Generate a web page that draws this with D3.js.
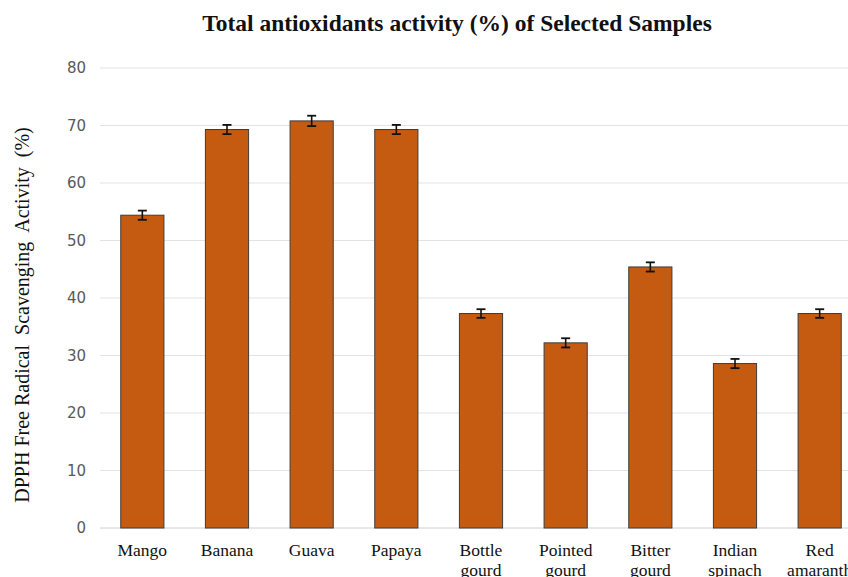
<!DOCTYPE html>
<html>
<head>
<meta charset="utf-8">
<script src="https://cdn.jsdelivr.net/npm/d3@7"></script>
<style>
  body { margin: 0; background: #fff; }
  svg { display: block; }
</style>
</head>
<body>
<div id="chart"></div>
<script>
// data
const samples = ["Mango", "Banana", "Guava", "Papaya", "Bottle gourd", "Pointed gourd", "Bitter gourd", "Indian spinach", "Red amaranth"];
const activity = [54.4, 69.3, 70.8, 69.3, 37.3, 32.2, 45.4, 28.6, 37.3];
const errors = [0.8, 0.8, 0.9, 0.8, 0.75, 0.8, 0.8, 0.8, 0.75];
const yTicks = [0, 10, 20, 30, 40, 50, 60, 70, 80];

const width = 848, height = 577;
const margin = { top: 68, right: -14, bottom: 49, left: 100 };

const svg = d3.select("#chart").append("svg")
  .attr("width", width)
  .attr("height", height);

const x = d3.scaleBand()
  .domain(samples)
  .range([margin.left, width - margin.right])
  .paddingInner(0.49)
  .paddingOuter(0.245);

const y = d3.scaleLinear()
  .domain([0, 80])
  .range([height - margin.bottom, margin.top]);

// gridlines
svg.append("g")
  .selectAll("line")
  .data(yTicks)
  .enter().append("line")
  .attr("x1", margin.left)
  .attr("x2", width)
  .attr("y1", d => y(d))
  .attr("y2", d => y(d))
  .style("stroke", d => d === 0 ? "#d0d0d0" : "#e3e3e3")
  .style("stroke-width", 1);

// y tick labels
svg.append("g")
  .selectAll("text")
  .data(yTicks)
  .enter().append("text")
  .attr("x", 86)
  .attr("y", d => y(d))
  .attr("dy", "0.36em")
  .attr("text-anchor", "end")
  .style("font-family", "'DejaVu Sans', Arial, sans-serif")
  .style("font-size", "15px")
  .style("fill", "#595959")
  .text(d => d);

// bars
svg.append("g")
  .selectAll("rect")
  .data(samples)
  .enter().append("rect")
  .attr("x", d => x(d))
  .attr("y", (d, i) => y(activity[i]))
  .attr("width", x.bandwidth())
  .attr("height", (d, i) => y(0) - y(activity[i]))
  .style("fill", "#C55A11")
  .style("stroke", "#3d3d3d")
  .style("stroke-width", 1);

// error bars
const err = svg.append("g")
  .selectAll("g")
  .data(samples)
  .enter().append("g")
  .attr("transform", d => `translate(${x(d) + x.bandwidth() / 2},0)`);

err.append("line")
  .attr("y1", (d, i) => y(activity[i] + errors[i]))
  .attr("y2", (d, i) => y(activity[i] - errors[i]))
  .style("stroke", "#111")
  .style("stroke-width", 1.6);

err.selectAll(".cap")
  .data((d, i) => [activity[i] + errors[i], activity[i] - errors[i]])
  .enter().append("line")
  .attr("class", "cap")
  .attr("x1", -4.5)
  .attr("x2", 4.5)
  .attr("y1", v => y(v))
  .attr("y2", v => y(v))
  .style("stroke", "#111")
  .style("stroke-width", 1.8);

// x labels (two lines where needed)
const xl = svg.append("g")
  .selectAll("text")
  .data(samples)
  .enter().append("text")
  .attr("x", d => x(d) + x.bandwidth() / 2)
  .attr("y", 556)
  .attr("text-anchor", "middle")
  .style("font-family", "'Liberation Serif', 'Times New Roman', serif")
  .style("font-size", "17.5px")
  .style("fill", "#111");

xl.each(function(d) {
  const words = d.split(" ");
  const t = d3.select(this);
  words.forEach((w, k) => {
    t.append("tspan")
      .attr("x", x(d) + x.bandwidth() / 2)
      .attr("dy", k === 0 ? 0 : 20)
      .text(w);
  });
});

// title
svg.append("text")
  .attr("x", 457)
  .attr("y", 31)
  .attr("text-anchor", "middle")
  .style("font-family", "'Liberation Serif', 'Times New Roman', serif")
  .style("font-weight", "bold")
  .style("font-size", "23.5px")
  .style("fill", "#111")
  .text("Total antioxidants activity (%) of Selected Samples");

// y axis label
svg.append("text")
  .attr("transform", "translate(29,315)rotate(-90)")
  .attr("text-anchor", "middle")
  .style("font-family", "'Liberation Serif', 'Times New Roman', serif")
  .style("font-size", "20px")
  .style("fill", "#111")
  .style("white-space", "pre")
  .text("DPPH Free Radical  Scavenging  Activity  (%)");
</script>
</body>
</html>
